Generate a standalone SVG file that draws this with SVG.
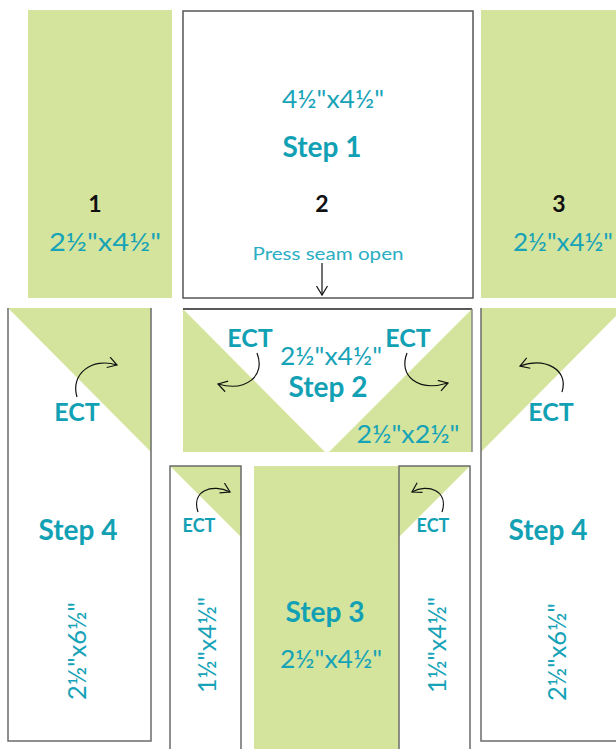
<svg xmlns="http://www.w3.org/2000/svg" width="616" height="749" viewBox="0 0 616 749">
<style>
.g{fill:#d5e49c}
.w{fill:#fff}
.edge{fill:none;stroke:#6b6b6b;stroke-width:1.5}
.dim{font-family:Lato,"Liberation Sans",sans-serif;font-size:25px;fill:#17a3b7;text-anchor:middle}
.step{font-family:Lato,"Liberation Sans",sans-serif;font-weight:bold;font-size:28px;fill:#12a1b4;text-anchor:middle}
.ect{font-family:Lato,"Liberation Sans",sans-serif;font-weight:bold;font-size:25px;fill:#12a1b4;text-anchor:middle}
.ects{font-family:Lato,"Liberation Sans",sans-serif;font-weight:bold;font-size:18px;fill:#12a1b4;text-anchor:middle}
.num{font-family:Lato,"Liberation Sans",sans-serif;font-weight:bold;font-size:23px;fill:#111;text-anchor:middle}
.note{font-family:Lato,"Liberation Sans",sans-serif;font-size:17px;fill:#29aec2;text-anchor:middle}
.arc{fill:none;stroke:#111;stroke-width:1.2;marker-end:url(#ah)}
</style>
<defs>
<marker id="ah" markerUnits="userSpaceOnUse" markerWidth="14" markerHeight="14" refX="10" refY="6" orient="auto">
<path d="M1,0.5 L10,6 L1,11.5" fill="none" stroke="#111" stroke-width="1.2"/>
</marker>
</defs>

<g id="piece1">
<rect class="g" x="28" y="10" width="144" height="288"/>
<text class="num" x="95" y="212">1</text>
<text class="dim" x="105" y="251" textLength="112" lengthAdjust="spacingAndGlyphs">2½"x4½"</text>
</g>

<g id="step1">
<rect x="183" y="11" width="290" height="287" fill="#fff" stroke="#555" stroke-width="1.5"/>
<text class="dim" x="333" y="108" textLength="102" lengthAdjust="spacingAndGlyphs">4½"x4½"</text>
<text class="step" x="322" y="157">Step 1</text>
<text class="num" x="322" y="212">2</text>
<text class="note" x="328" y="260" textLength="151" lengthAdjust="spacingAndGlyphs">Press seam open</text>
</g>

<g id="piece3">
<rect class="g" x="481" y="10" width="140" height="288"/>
<text class="num" x="559" y="212">3</text>
<text class="dim" x="563" y="251" textLength="100" lengthAdjust="spacingAndGlyphs">2½"x4½"</text>
</g>

<g id="step4-left">
<rect class="w" x="8" y="308" width="143" height="433"/>
<polygon class="g" points="8,308 151,308 151,452"/>
<path class="edge" d="M8,308 V741 H151 V308"/>
<text class="ect" x="77" y="421">ECT</text>
<text class="step" x="78" y="540">Step 4</text>
<text class="dim" transform="translate(86,651) rotate(-90)" textLength="98" lengthAdjust="spacingAndGlyphs">2½"x6½"</text>
</g>

<g id="step2">
<rect class="g" x="183" y="309" width="289" height="143"/>
<polygon class="w" points="183,309 472,309 327,454"/>
<path d="M183,309 H472" stroke="#222" stroke-width="1.5"/>
<path d="M472,309 V452" stroke="#888" stroke-width="1.5"/>
<text class="ect" x="250" y="347">ECT</text>
<text class="ect" x="408" y="347">ECT</text>
<text class="dim" x="331" y="365" textLength="102" lengthAdjust="spacingAndGlyphs">2½"x4½"</text>
<text class="step" x="328" y="397">Step 2</text>
<text class="dim" x="408" y="443" textLength="103" lengthAdjust="spacingAndGlyphs">2½"x2½"</text>
</g>

<g id="step4-right">
<rect class="w" x="481" y="308" width="143" height="433"/>
<polygon class="g" points="481,308 624,308 481,452"/>
<path class="edge" d="M481,308 V741 H624"/>
<text class="ect" x="551" y="421">ECT</text>
<text class="step" x="548" y="540">Step 4</text>
<text class="dim" transform="translate(566,652) rotate(-90)" textLength="98" lengthAdjust="spacingAndGlyphs">2½"x6½"</text>
</g>

<g id="strip-left">
<rect class="w" x="170" y="466" width="71" height="290"/>
<polygon class="g" points="170,466 241,466 241,537"/>
<path class="edge" d="M170,756 V466 H241 V756"/>
<text class="ects" x="199" y="532">ECT</text>
<text class="dim" transform="translate(216,645) rotate(-90)" textLength="96" lengthAdjust="spacingAndGlyphs">1½"x4½"</text>
</g>

<g id="step3">
<rect class="g" x="254" y="466" width="145" height="290"/>
<text class="step" x="325" y="622">Step 3</text>
<text class="dim" x="331" y="668" textLength="102" lengthAdjust="spacingAndGlyphs">2½"x4½"</text>
</g>

<g id="strip-right">
<rect class="w" x="399" y="466" width="71" height="290"/>
<polygon class="g" points="399,466 470,466 399,537"/>
<path class="edge" d="M399,756 V466 H470 V756"/>
<text class="ects" x="433" y="532">ECT</text>
<text class="dim" transform="translate(446,645) rotate(-90)" textLength="96" lengthAdjust="spacingAndGlyphs">1½"x4½"</text>
</g>

<g id="connectors">
<path class="arc" d="M322,263 V295"/>
<path class="arc" d="M77,397 C70,374 92,357 117,365"/>
<path class="arc" d="M257,353 C266,376 246,392 218,384"/>
<path class="arc" d="M407,353 C398,376 418,392 448,383"/>
<path class="arc" d="M562,392 C569,370 546,357 520,366"/>
<path class="arc" d="M198,512 C191,491 212,483 230,492"/>
<path class="arc" d="M442,512 C449,491 428,483 412,492"/>
</g>
</svg>
